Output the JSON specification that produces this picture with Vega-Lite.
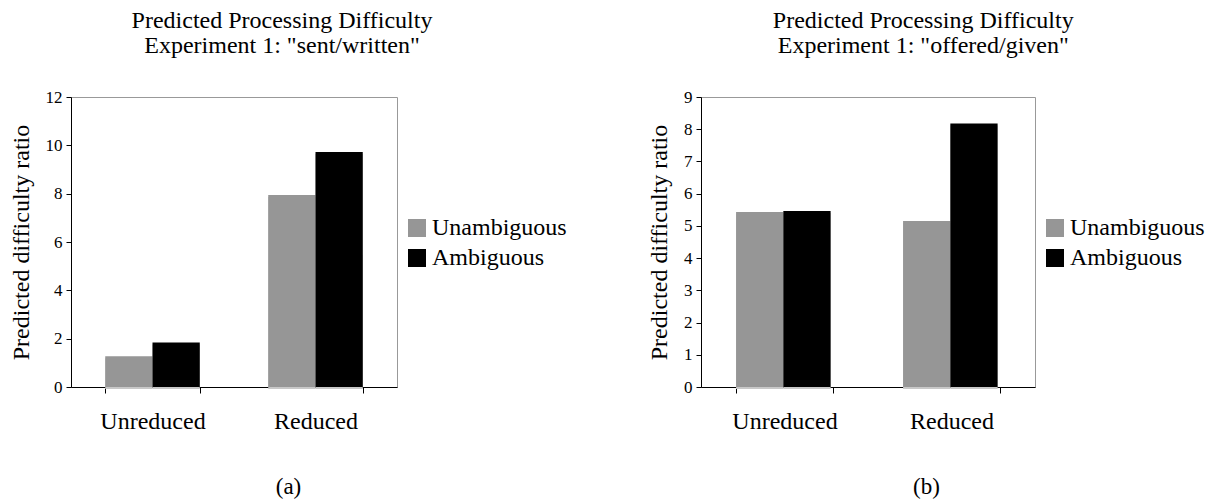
{
  "$schema": "https://vega.github.io/schema/vega-lite/v6.json",
  "background": "white",
  "padding": {"left": 8, "top": 8, "right": 0, "bottom": 0},
  "config": {
    "font": "Liberation Serif",
    "view": {"stroke": "#999999", "strokeWidth": 1},
    "style": {"guide-label": {"font": "Liberation Serif", "fill": "#000000"}, "guide-title": {"font": "Liberation Serif", "fill": "#000000", "fontWeight": "normal"}, "group-title": {"font": "Liberation Serif", "fontWeight": "normal"}},
    "axis": {"domainColor": "#000000", "tickColor": "#000000", "labelColor": "#000000", "titleColor": "#000000", "labelFont": "Liberation Serif", "titleFont": "Liberation Serif", "titleFontWeight": "normal", "grid": false},
    "title": {"font": "Liberation Serif", "fontWeight": "normal", "color": "#000000"},
    "legend": {"labelFont": "Liberation Serif", "labelColor": "#000000"}
  },
  "spacing": 78,
  "resolve": {"legend": {"color": "independent"}, "scale": {"y": "independent", "x": "independent"}},
  "hconcat": [
    {
      "width": 326,
      "height": 290,
      "title": {"text": ["Predicted Processing Difficulty", "Experiment 1: \"sent/written\""], "fontSize": 24, "lineHeight": 25, "offset": 30, "anchor": "middle", "frame": "bounds", "dx": -6},
      "data": {"values": [
        {"condition": "Unreduced", "type": "Unambiguous", "value": 1.27},
        {"condition": "Unreduced", "type": "Ambiguous", "value": 1.84},
        {"condition": "Reduced", "type": "Unambiguous", "value": 7.95},
        {"condition": "Reduced", "type": "Ambiguous", "value": 9.72}
      ]},
      "encoding": {
        "x": {"field": "condition", "type": "nominal", "sort": ["Unreduced", "Reduced"],
          "scale": {"paddingInner": 0.42, "paddingOuter": 0.21},
          "axis": {"labelAngle": 0, "labelFontSize": 24, "labelPadding": 16, "tickSize": 6, "tickBand": "extent", "title": "(a)", "titleFontSize": 23, "titleX": 217, "titleY": 106, "titleBaseline": "alphabetic", "titleAnchor": "middle"}},
        "xOffset": {"field": "type", "type": "nominal", "sort": ["Unambiguous", "Ambiguous"], "scale": {"paddingInner": 0, "paddingOuter": 0}},
        "y": {"field": "value", "type": "quantitative", "scale": {"domain": [0, 12], "nice": false},
          "axis": {"values": [0, 2, 4, 6, 8, 10, 12], "title": "Predicted difficulty ratio", "titleFontSize": 24, "labelFontSize": 17, "tickSize": 5, "labelPadding": 4, "titlePadding": 12}}
      },
      "layer": [
        {"mark": {"type": "bar", "color": "#c8c8c8", "xOffset": 2, "yOffset": 2, "y2Offset": 0}},
        {"mark": {"type": "bar"},
          "encoding": {
            "color": {"field": "type", "type": "nominal",
              "scale": {"domain": ["Unambiguous", "Ambiguous"], "range": ["#969696", "#000000"]},
              "legend": {"title": null, "orient": "none", "legendX": 334, "legendY": 119, "symbolType": "square", "symbolSize": 324, "symbolStrokeWidth": 0, "labelFontSize": 24, "labelOffset": 3, "rowPadding": 6}}
          }}
      ]
    },
    {
      "width": 334,
      "height": 290,
      "title": {"text": ["Predicted Processing Difficulty", "Experiment 1: \"offered/given\""], "fontSize": 24, "lineHeight": 25, "offset": 30, "anchor": "middle", "frame": "bounds", "dx": -3},
      "data": {"values": [
        {"condition": "Unreduced", "type": "Unambiguous", "value": 5.43},
        {"condition": "Unreduced", "type": "Ambiguous", "value": 5.46},
        {"condition": "Reduced", "type": "Unambiguous", "value": 5.15},
        {"condition": "Reduced", "type": "Ambiguous", "value": 8.18}
      ]},
      "encoding": {
        "x": {"field": "condition", "type": "nominal", "sort": ["Unreduced", "Reduced"],
          "scale": {"paddingInner": 0.42, "paddingOuter": 0.21},
          "axis": {"labelAngle": 0, "labelFontSize": 24, "labelPadding": 16, "tickSize": 6, "tickBand": "extent", "title": "(b)", "titleFontSize": 23, "titleX": 225, "titleY": 106, "titleBaseline": "alphabetic", "titleAnchor": "middle"}},
        "xOffset": {"field": "type", "type": "nominal", "sort": ["Unambiguous", "Ambiguous"], "scale": {"paddingInner": 0, "paddingOuter": 0}},
        "y": {"field": "value", "type": "quantitative", "scale": {"domain": [0, 9], "nice": false},
          "axis": {"values": [0, 1, 2, 3, 4, 5, 6, 7, 8, 9], "title": "Predicted difficulty ratio", "titleFontSize": 24, "labelFontSize": 17, "tickSize": 5, "labelPadding": 4, "titlePadding": 12}}
      },
      "layer": [
        {"mark": {"type": "bar", "color": "#c8c8c8", "xOffset": 2, "yOffset": 2, "y2Offset": 0}},
        {"mark": {"type": "bar"},
          "encoding": {
            "color": {"field": "type", "type": "nominal",
              "scale": {"domain": ["Unambiguous", "Ambiguous"], "range": ["#969696", "#000000"]},
              "legend": {"title": null, "orient": "none", "legendX": 342, "legendY": 119, "symbolType": "square", "symbolSize": 324, "symbolStrokeWidth": 0, "labelFontSize": 24, "labelOffset": 3, "rowPadding": 6}}
          }}
      ]
    }
  ]
}
